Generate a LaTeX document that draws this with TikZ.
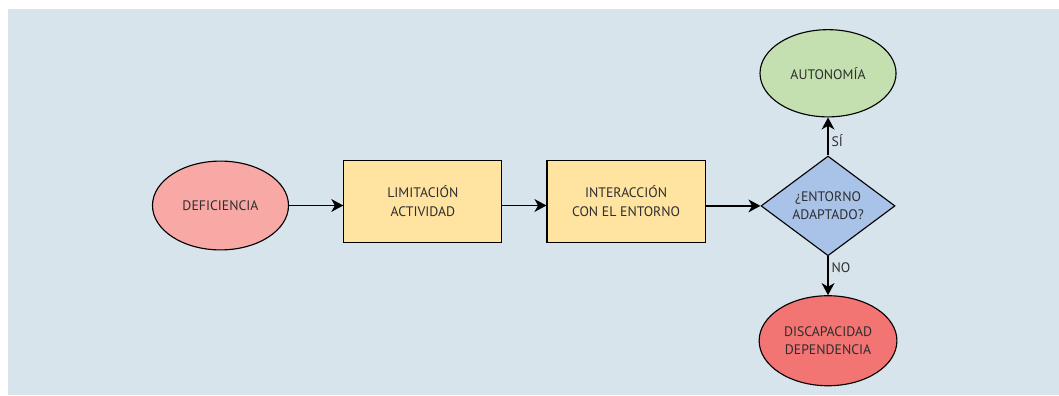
\documentclass[tikz,border=0pt]{standalone}
\usepackage{fontspec}
\setmainfont{PT Sans}
\usepackage{xcolor}
\usepackage{tikz}
\usetikzlibrary{shapes.geometric, arrows.meta, positioning}

\definecolor{bgblue}{HTML}{D8E4EC}
\definecolor{rosefill}{HTML}{F8A9A6}
\definecolor{sandfill}{HTML}{FFE3A1}
\definecolor{skyfill}{HTML}{A9C3E8}
\definecolor{leaffill}{HTML}{C5E0B0}
\definecolor{redfill}{HTML}{F27473}
\definecolor{inkgray}{HTML}{2E2E2E}

\begin{document}
\begin{tikzpicture}[
        x=0.025cm, y=-0.025cm,
        every node/.style={font=\fontsize{9.8}{13}\selectfont, text=inkgray},
        oval/.style={ellipse, draw, line width=0.8pt, minimum width=3.4cm, minimum height=2.22cm, align=center},
        box/.style={rectangle, draw, line width=0.8pt, minimum width=3.95cm, minimum height=2.05cm, align=center, fill=sandfill},
        decision/.style={diamond, draw, line width=0.8pt, minimum width=3.35cm, minimum height=2.3cm, inner sep=0pt, align=center, fill=skyfill},
        arrow/.style={-{Stealth[length=3mm, width=3.2mm, inset=0.9mm]}, line width=1.1pt},
        lbl/.style={font=\fontsize{9.8}{11}\selectfont, inner sep=2pt}
    ]
        % Background
        \useasboundingbox (0,0) rectangle (1059,395);
        \fill[bgblue] (8,9) rectangle (1059,395);

        % Main row
        \node[oval, fill=rosefill] (defic) at (220.5,205.5) {DEFICIENCIA};
        \node[box, right=1.355cm of defic, yshift=0.11cm] (limit) {LIMITACIÓN\\ACTIVIDAD};
        \node[box, right=1.1cm of limit] (inter) {INTERACCIÓN\\CON EL ENTORNO};
        \node[decision, right=1.37cm of inter, yshift=-0.12cm] (decide) {¿ENTORNO\\ADAPTADO?};

        % Outcomes
        \node[oval, fill=leaffill, minimum height=2.18cm, above=0.95cm of decide] (auto) {AUTONOMÍA};
        \node[oval, fill=redfill, minimum height=2.25cm, below=0.97cm of decide] (disca) {DISCAPACIDAD\\DEPENDENCIA};

        % Arrows
        \draw[arrow] (defic.east) -- (defic.east -| limit.west);
        \draw[arrow] (limit.east |- defic.east) -- (inter.west |- defic.east);
        \draw[arrow] (inter.east |- decide) -- (decide.west);
        \draw[arrow] (decide.north) -- node[lbl, right, pos=0.38] {SÍ} (auto.south);
        \draw[arrow] (decide.south) -- node[lbl, right, pos=0.28] {NO} (disca.north);

    \end{tikzpicture}
\end{document}
